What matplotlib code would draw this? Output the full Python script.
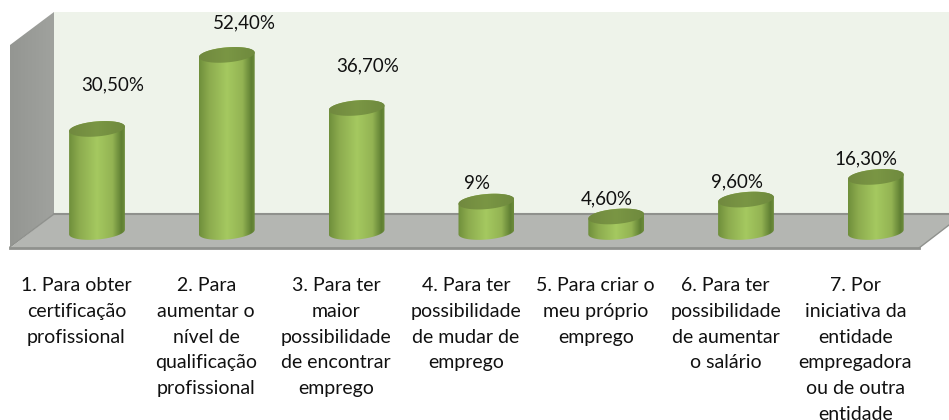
import numpy as np
import matplotlib
matplotlib.use('Agg')
import matplotlib.pyplot as plt
from matplotlib.colors import LinearSegmentedColormap
from matplotlib.patches import Polygon

valores = [30.5, 52.4, 36.7, 9, 4.6, 9.6, 16.3]
rotulos = ['30,50%', '52,40%', '36,70%', '9%', '4,60%', '9,60%', '16,30%']
categorias = [
    ['1. Para obter', 'certificação', 'profissional'],
    ['2. Para', 'aumentar o', 'nível de', 'qualificação', 'profissional'],
    ['3. Para ter', 'maior', 'possibilidade', 'de encontrar', 'emprego'],
    ['4. Para ter', 'possibilidade', 'de mudar de', 'emprego'],
    ['5. Para criar o', 'meu próprio', 'emprego'],
    ['6. Para ter', 'possibilidade', 'de aumentar', 'o salário'],
    ['7. Por', 'iniciativa da', 'entidade', 'empregadora', 'ou de outra', 'entidade'],
]

# deslocamento dos rotulos em relacao ao topo da barra (px)
rot_dx = [16, 18, 11, -9, -9, -9, -10]
rot_dy = [44, 32, 42, 18, 18, 18, 18]

plt.rcParams['font.family'] = ['Lato', 'DejaVu Sans']

W, H = 949, 420
X0, PX_X = 97, 129.8      # px da primeira barra, px por categoria
Y0, PX_Y = 232, 3.38      # px do valor zero, px por ponto percentual
MEIA_L, MEIA_A = 28, 7.5  # semi-eixos da elipse
INCL = np.radians(-5)

fig = plt.figure(figsize=(W / 100, H / 100), dpi=100)

# paredes e chao em pixeis
fundo = fig.add_axes([0, 0, 1, 1])
fundo.set_xlim(0, W)
fundo.set_ylim(H, 0)
fundo.axis('off')

fundo.add_patch(Polygon([(54, 12), (949, 12), (949, 214), (54, 214)], fc='#eef3ea', ec='none'))
parede = Polygon([(10, 45), (54, 12), (54, 214), (10, 247)], fc='none', ec='none')
fundo.add_patch(parede)
cmap_parede = LinearSegmentedColormap.from_list('parede', ['#949692', '#a0a29e'])
im = fundo.imshow(np.linspace(0, 1, 64).reshape(1, -1), cmap=cmap_parede,
                  extent=(10, 54, 247, 12), aspect='auto')
im.set_clip_path(parede)
fundo.set_xlim(0, W)
fundo.set_ylim(H, 0)
fundo.add_patch(Polygon([(54, 214), (949, 214), (949, 225), (919, 248), (10, 248)],
                        fc='#b4b6b2', ec='none'))
fundo.plot([54, 949], [214, 214], color='#8f918d', lw=1.5)
fundo.plot([54, 10], [214, 247], color='#8f918d', lw=1)
fundo.plot([10, 919], [248, 248], color='#8f918d', lw=2)
fundo.plot([919, 949], [248, 225], color='#8f918d', lw=1)

# barras em coordenadas de dados
ax = fig.add_axes([0, 0, 1, 1])
ax.patch.set_alpha(0)
ax.set_xlim(-X0 / PX_X, (W - X0) / PX_X)
ax.set_ylim((Y0 - H) / PX_Y, Y0 / PX_Y)
ax.axis('off')

cmap_corpo = LinearSegmentedColormap.from_list('corpo', [
    (0, '#6f8f3b'), (0.18, '#8cab4e'), (0.5, '#a5c960'), (0.78, '#93b353'),
    (0.94, '#5f7f33'), (1, '#6d8c3b')])
cmap_topo = LinearSegmentedColormap.from_list('topo', ['#71893f', '#7a9644', '#6f8a3e'])


def elipse(i, v, t):
    dx = MEIA_L * np.cos(t) * np.cos(INCL) - MEIA_A * np.sin(t) * np.sin(INCL)
    dy = MEIA_L * np.cos(t) * np.sin(INCL) + MEIA_A * np.sin(t) * np.cos(INCL)
    return i + dx / PX_X, v - dy / PX_Y


for i, v in enumerate(valores):
    # metade inferior da elipse da base (y do ecra cresce para baixo)
    xb, yb = elipse(i, 0, np.linspace(np.pi, 0, 40))
    xt, yt = elipse(i, v, np.linspace(0, -np.pi, 40))
    corpo = Polygon(np.column_stack([np.r_[xb, xt], np.r_[yb, yt]]), fc='none', ec='none')
    ax.add_patch(corpo)
    e = MEIA_L / PX_X
    im = ax.imshow(np.linspace(0, 1, 128).reshape(1, -1), cmap=cmap_corpo,
                   extent=(i - e, i + e, -4, v + 4), aspect='auto', zorder=2)
    im.set_clip_path(corpo)

    xe, ye = elipse(i, v, np.linspace(0, 2 * np.pi, 80))
    topo = Polygon(np.column_stack([xe, ye]), fc='none', ec='none')
    ax.add_patch(topo)
    im = ax.imshow(np.linspace(0, 1, 64).reshape(1, -1), cmap=cmap_topo,
                   extent=(i - e, i + e, v - 4, v + 4), aspect='auto', zorder=3)
    im.set_clip_path(topo)

    ax.annotate(rotulos[i], (i, v), xytext=(rot_dx[i] * 0.72, rot_dy[i] * 0.72),
                textcoords='offset points', ha='center', va='center',
                fontsize=13.5, color='#111111', zorder=5)
    # cada linha em separado, passo de 25.8 px
    for j, linha in enumerate(categorias[i]):
        ax.annotate(linha, (i, 0), xytext=(-20.5 * 0.72, -(59 + 25.8 * j) * 0.72),
                    textcoords='offset points', ha='center', va='baseline',
                    fontsize=14, color='#111111', zorder=5)

ax.set_xlim(-X0 / PX_X, (W - X0) / PX_X)
ax.set_ylim((Y0 - H) / PX_Y, Y0 / PX_Y)

fig.savefig('out.png', dpi=100, facecolor='white')
